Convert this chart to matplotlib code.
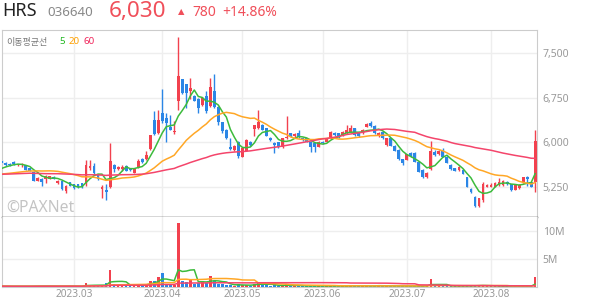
import numpy as np
import pandas as pd
import matplotlib
matplotlib.use("Agg")
import matplotlib.pyplot as plt

plt.rcParams['font.family'] = ['Noto Sans', 'Noto Sans CJK KR', 'DejaVu Sans']

# KRX trading days in the window (market holidays removed)
holidays = ["2023-03-01", "2023-05-01", "2023-05-05", "2023-05-29", "2023-06-06", "2023-08-15"]
days = pd.bdate_range("2023-02-03", "2023-08-17")
days = days[~days.isin(pd.to_datetime(holidays))]

opens = [
    5690, 5660, 5640, 5665, 5615, 5615, 5610, 5565, 5505, 5355,
    5385, 5380, 5390, 5420, 5310, 5350, 5185, 5330, 5295, 5295,
    5310, 5310, 5560, 5600, 5450, 5210, 5195, 5240, 5620, 5555,
    5545, 5600, 5560, 5490, 5570, 5715, 5715, 5880, 6375, 6150,
    6500, 6405, 6265, 6170, 6700, 7060, 6980, 6865, 6780, 6725,
    6630, 6780, 6620, 6860, 6600, 6340, 6210, 5925, 5870, 6010,
    5760, 5860, 6010, 6230, 6235, 6300, 6235, 6075, 5995, 6000,
    5920, 6070, 6150, 6100, 6150, 6070, 6070, 6010, 5985, 5925,
    6010, 6010, 6070, 6165, 6150, 6125, 6150, 6180, 6235, 6165,
    6150, 6265, 6320, 6275, 6105, 6180, 5955, 6070, 5940, 5870,
    5715, 5705, 5815, 5825, 5675, 5535, 5410, 5545, 5840, 5805,
    5855, 5760, 5620, 5565, 5535, 5535, 5410, 5210, 5085, 4920,
    5030, 5255, 5255, 5255, 5280, 5280, 5335, 5295, 5200, 5225,
    5325, 5410, 5330, 5340]
highs = [
    5710, 5670, 5660, 5680, 5640, 5650, 5620, 5575, 5510, 5410,
    5395, 5450, 5440, 5430, 5360, 5355, 5280, 5340, 5300, 5305,
    5320, 5705, 5700, 5650, 5470, 5280, 5300, 5985, 5640, 5600,
    5610, 5610, 5570, 5560, 5715, 5740, 5855, 6130, 6520, 6545,
    6895, 6490, 6460, 6360, 7770, 7070, 6990, 7080, 6790, 6740,
    6765, 6860, 7080, 7160, 6610, 6350, 6220, 6070, 5950, 6020,
    5920, 6060, 6020, 6300, 6545, 6310, 6245, 6090, 6010, 6005,
    6080, 6440, 6160, 6150, 6200, 6080, 6080, 6020, 6000, 6020,
    6030, 6080, 6190, 6180, 6160, 6190, 6290, 6295, 6250, 6175,
    6220, 6330, 6365, 6285, 6175, 6190, 6080, 6080, 5950, 5880,
    5725, 5810, 5840, 5835, 5685, 5545, 5500, 6020, 5870, 5870,
    5900, 5770, 5630, 5575, 5600, 5545, 5420, 5230, 5095, 5070,
    5330, 5300, 5310, 5330, 5400, 5370, 5350, 5305, 5290, 5290,
    5420, 5430, 5340, 6200]
lows = [
    5630, 5600, 5600, 5625, 5605, 5590, 5530, 5510, 5345, 5350,
    5265, 5310, 5380, 5375, 5300, 5200, 5145, 5260, 5215, 5235,
    5235, 5265, 5540, 5470, 5360, 5060, 5030, 5225, 5500, 5540,
    5520, 5510, 5520, 5480, 5560, 5650, 5700, 5870, 6120, 6140,
    6330, 6010, 6200, 6135, 6545, 6820, 6575, 6725, 6690, 6500,
    6620, 6500, 6600, 6580, 6300, 6150, 6050, 5870, 5860, 5735,
    5750, 5850, 5940, 6100, 6220, 6200, 6100, 6020, 5815, 5910,
    5910, 6060, 6090, 6080, 6075, 6030, 6000, 5840, 5840, 5915,
    5970, 6000, 6060, 6110, 6080, 6115, 6140, 6170, 6100, 6095,
    6140, 6255, 6265, 6140, 6095, 6060, 5945, 5930, 5850, 5705,
    5620, 5695, 5760, 5665, 5495, 5400, 5400, 5535, 5770, 5795,
    5750, 5650, 5535, 5515, 5525, 5460, 5240, 5150, 4910, 4910,
    5000, 5240, 5240, 5245, 5270, 5270, 5285, 5185, 5190, 5215,
    5315, 5270, 5240, 5160]
closes = [
    5655, 5620, 5625, 5635, 5630, 5635, 5540, 5520, 5355, 5405,
    5340, 5440, 5430, 5385, 5355, 5215, 5270, 5270, 5230, 5245,
    5245, 5620, 5600, 5480, 5380, 5240, 5160, 5690, 5545, 5590,
    5590, 5520, 5540, 5545, 5685, 5670, 5790, 6120, 6135, 6375,
    6365, 6320, 6210, 6195, 7120, 6835, 6835, 6920, 6700, 6575,
    6750, 6520, 6930, 6600, 6340, 6190, 6070, 5890, 5940, 5770,
    5905, 6040, 5955, 6290, 6345, 6210, 6110, 6040, 5960, 5920,
    6070, 6095, 6100, 6140, 6085, 6040, 6010, 5925, 5925, 6010,
    5985, 6070, 6180, 6125, 6105, 6180, 6210, 6235, 6125, 6105,
    6210, 6310, 6275, 6150, 6165, 6070, 6070, 5940, 5860, 5715,
    5660, 5800, 5770, 5675, 5505, 5410, 5490, 5855, 5780, 5860,
    5760, 5660, 5545, 5525, 5590, 5470, 5250, 5170, 4920, 5060,
    5300, 5285, 5285, 5310, 5335, 5350, 5295, 5195, 5280, 5280,
    5410, 5390, 5250, 6030]
volumes = [
    90000, 70000, 60000, 80000, 60000, 70000, 90000, 80000, 150000, 90000,
    100000, 120000, 80000, 70000, 90000, 130000, 110000, 90000, 80000, 70000,
    80000, 700000, 250000, 150000, 120000, 200000, 700000, 3000000, 500000, 300000,
    250000, 300000, 250000, 250000, 350000, 300000, 500000, 1070000, 1070000, 1700000,
    2500000, 500000, 400000, 300000, 11400000, 1000000, 850000, 1300000, 550000, 700000,
    1000000, 700000, 1900000, 1070000, 500000, 400000, 350000, 300000, 200000, 400000,
    250000, 300000, 200000, 500000, 900000, 350000, 250000, 200000, 250000, 180000,
    250000, 400000, 150000, 120000, 150000, 130000, 120000, 150000, 120000, 110000,
    100000, 120000, 160000, 110000, 100000, 120000, 150000, 300000, 130000, 100000,
    120000, 180000, 150000, 130000, 300000, 120000, 100000, 110000, 120000, 140000,
    120000, 150000, 100000, 110000, 150000, 140000, 120000, 1370000, 200000, 150000,
    130000, 120000, 150000, 110000, 100000, 120000, 180000, 150000, 250000, 300000,
    200000, 120000, 100000, 90000, 110000, 100000, 90000, 110000, 100000, 90000,
    120000, 100000, 90000, 1800000]
# closes before the window, only used to seed the moving averages
prev_closes = [
    5520, 5480, 5450, 5410, 5390, 5420, 5460, 5500, 5530, 5510,
    5470, 5440, 5400, 5380, 5360, 5400, 5430, 5450, 5480, 5510,
    5540, 5560, 5530, 5500, 5470, 5440, 5420, 5400, 5430, 5460,
    5490, 5510, 5480, 5450, 5430, 5410, 5440, 5470, 5490, 5500,
    5500, 5480, 5470, 5460, 5455, 5420, 5390, 5370, 5360, 5380,
    5400, 5420, 5450, 5470, 5485, 5500, 5525, 5550, 5580]

ma_windows = [5, 20, 60]
ma_colors = ["#3cbb3c", "#ffa726", "#f4456b"]
up_color = "#f2414e"
down_color = "#2b86e6"
grid_c = "#eeeeee"
label_c = "#999999"

o = np.array(opens); h = np.array(highs); l = np.array(lows); c = np.array(closes)
v = np.array(volumes)
x = np.arange(len(c))
cols = np.where(c >= o, up_color, down_color)

all_close = pd.Series(prev_closes + closes, dtype=float)
vol_s = pd.Series(volumes, dtype=float)

month_idx = [i for i in range(1, len(days)) if days[i].month != days[i - 1].month]
month_lab = [days[i].strftime("%Y.%m") for i in month_idx]

W, H = 594, 304
fig = plt.figure(figsize=(W / 100, H / 100), dpi=100)
ax = fig.add_axes([1.7 / W, 87 / H, 535.6 / W, 187 / H])
axv = fig.add_axes([1.7 / W, 17.3 / H, 535.6 / W, 69.7 / H], sharex=ax)

# price panel
ax.vlines(x, l, h, colors=cols, lw=1.0, zorder=2)
ax.bar(x, np.maximum(np.abs(c - o), 14), bottom=np.minimum(o, c), width=0.72,
       color=cols, linewidth=0, zorder=3)
for w, col in zip(ma_windows, ma_colors):
    ma = all_close.rolling(w).mean().iloc[len(prev_closes):].values
    ax.plot(x, ma, color=col, lw=1.1, zorder=4)

ax.set_xlim(-0.025, 133.54)
ax.set_ylim(4742, 7893)
ax.set_yticks([5250, 6000, 6750, 7500])
ax.set_yticklabels([f"{t:,}" for t in [5250, 6000, 6750, 7500]])
ax.yaxis.tick_right()
ax.set_xticks(month_idx)
ax.tick_params(axis='x', labelbottom=False, length=0)
ax.tick_params(axis='y', length=0, pad=3.9, labelsize=7.5, labelcolor=label_c)
ax.grid(True, color=grid_c, lw=1, zorder=0)
ax.set_axisbelow(True)
for s in ['left', 'right', 'top']:
    ax.spines[s].set_color('#cccccc')
ax.spines['bottom'].set_color('#333333')
ax.spines['bottom'].set_linewidth(1.0)

ax.text(5 / 535.6, (217 - 211.7) / 187, "©PAXNet", transform=ax.transAxes,
        fontsize=11.3, fontweight='bold', color='#c4c4c4', va='baseline', zorder=1)

# volume panel
axv.bar(x, v, width=0.68, color=cols, linewidth=0, zorder=3)
for w, col in zip(ma_windows, ma_colors):
    axv.plot(x, vol_s.rolling(w, min_periods=1).mean().values, color=col, lw=1.1, zorder=4)
axv.set_ylim(0, 12.45e6)
axv.set_yticks([5e6, 10e6])
axv.set_yticklabels(["5M", "10M"])
axv.yaxis.tick_right()
axv.set_xticks(month_idx)
axv.set_xticklabels(month_lab)
axv.tick_params(axis='x', length=0, pad=1.5, labelsize=7.3, labelcolor=label_c)
axv.tick_params(axis='y', length=0, pad=3.9, labelsize=7.5, labelcolor=label_c)
axv.grid(True, color=grid_c, lw=1, zorder=0)
axv.set_axisbelow(True)
for s in ['left', 'right', 'bottom']:
    axv.spines[s].set_color('#cccccc')
axv.spines['top'].set_visible(False)

# header
def ft(px, py, s, **kw):
    fig.text(px / W, 1 - py / H, s, va='baseline', **kw)

red = "#f04f5a"
ft(2, 16.5, "HRS", fontsize=13, color='#222222')
ft(47, 16.5, "036640", fontsize=9.6, color='#888888')
ft(109, 16.5, "6,030", fontsize=16.2, color=red)
ft(178, 14.3, "▲", fontsize=6, color=red, family='DejaVu Sans')
ft(192.5, 16.5, "780", fontsize=10, color=red)
ft(222.5, 16.5, "+14.86%", fontsize=10, color=red)

ft(6.5, 44.5, "이동평균선", fontsize=6.5, color='#777777', family=['Noto Sans CJK KR', 'DejaVu Sans'])
for px, s, col in zip([59, 69, 84], ["5", "20", "60"], ["#22b822", "#ffa000", "#f0245a"]):
    ft(px, 44.5, s, fontsize=7, color=col)

fig.savefig("out.png", dpi=100)
